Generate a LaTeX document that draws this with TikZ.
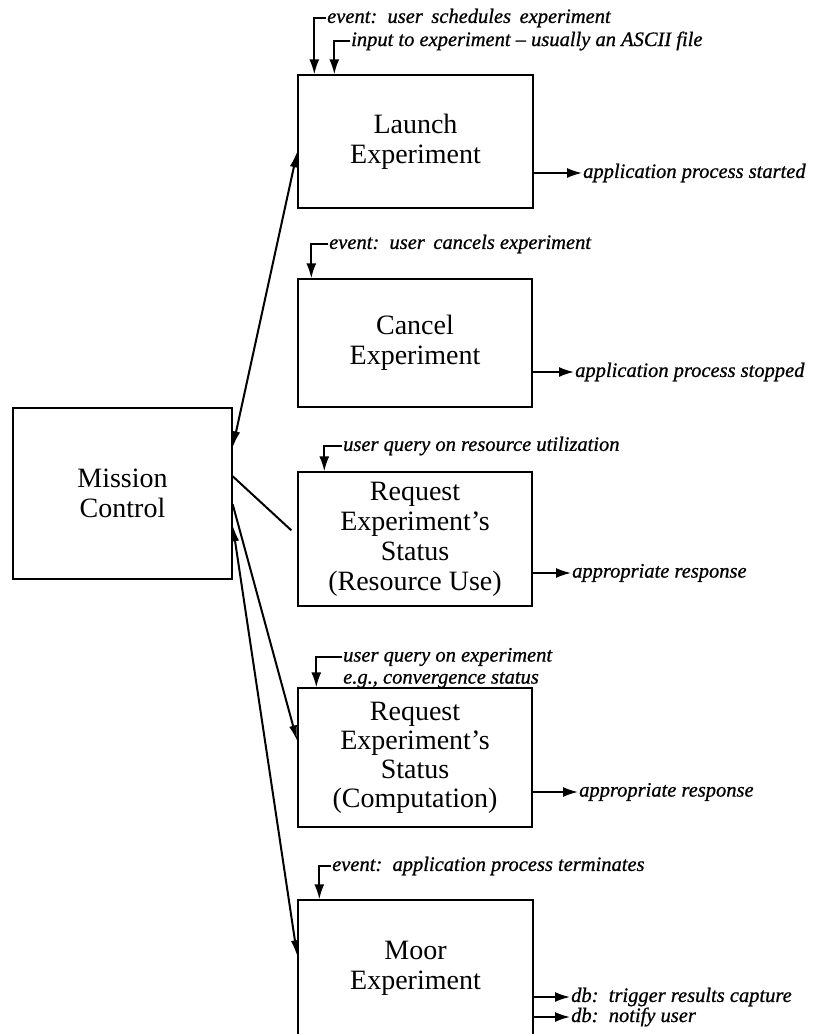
\documentclass[tikz,border=0pt]{standalone}
\usepackage{fontspec}
\setmainfont{Liberation Serif}
\newfontfamily\lblfont[FakeBold=0.8,Ligatures=TeX]{Liberation Serif}
\usetikzlibrary{arrows.meta,calc}
\begin{document}
\begin{tikzpicture}[x=1pt,y=-1pt,
  box/.style={draw, line width=1.4pt, inner sep=0pt, align=center, font=\fontsize{28}{30}\selectfont},
  lbl/.style={font=\lblfont\fontsize{20.5}{22}\selectfont\itshape, inner sep=1pt, anchor=west},
  arr/.style={line width=1.7pt, -{Latex[length=15pt,width=10pt]}},
  conn/.style={line width=2pt},
  tip/.tip={Latex[length=16pt,width=8pt]}
]
\useasboundingbox (0,0) rectangle (822,1034);

% boxes
\node[box, minimum width=219pt, minimum height=171pt] (mc) at (122.5,493.5) {Mission\\Control};
\node[box, minimum width=235pt, minimum height=133pt] (launch) at (415.5,141.5) {Launch\\Experiment};
\node[box, minimum width=234pt, minimum height=128pt] (cancel) at (415,343) {Cancel\\Experiment};
\node[box, minimum width=234pt, minimum height=134pt] (req1) at (415,539) {Request\\Experiment's\\Status\\(Resource Use)};
\node[box, minimum width=234pt, minimum height=139pt, font=\fontsize{28}{29}\selectfont] (req2) at (415,757.5) {Request\\Experiment's\\Status\\(Computation)};
\node[box, minimum width=235pt, minimum height=136pt] (moor) at (415.5,968) {Moor\\Experiment};

% connectors from Mission Control
\draw[conn, tip-tip] ($(mc.north east)+(0,40)$) -- ($(launch.north west)+(0,77)$);
\draw[conn] ($(mc.north east)+(0,69)$) -- ($(req1.north west)+(-6,59)$);
\draw[conn, -tip] ($(mc.north east)+(0,97)$) -- ($(req2.north west)+(0,54)$);
\draw[conn, tip-tip] ($(mc.north east)+(0,118)$) -- ($(moor.north west)+(0,57)$);

% input labels
\node[lbl] (ev1) at (326,18) {event:\, user\, schedules\, experiment};
\node[lbl] (in1) at (350,41) {input to experiment -- usually an ASCII file};
\draw[arr] (ev1.west) -| ($(launch.north west)+(17,0)$);
\draw[arr] (in1.west) -| ($(launch.north west)+(37,0)$);

\node[lbl] (ev2) at (328,244) {event:\, user\, cancels experiment};
\draw[arr] (ev2.west) -| ($(cancel.north west)+(14,0)$);

\node[lbl] (ev3) at (342,446) {user query on resource utilization};
\draw[arr] (ev3.west) -| ($(req1.north west)+(27,0)$);

\node[lbl] (ev4) at (342,657) {user query on experiment};
\node[lbl] (ev4b) at (342,680) {e.g., convergence status};
\draw[arr] (ev4.west) -| ($(req2.north west)+(19,0)$);

\node[lbl] (ev5) at (331,866) {event:\, application process terminates};
\draw[arr] (ev5.west) -| ($(moor.north west)+(22,0)$);

% outputs
\node[lbl] (out1) at (582,173) {application process started};
\draw[arr] (launch.east |- out1.west) -- (out1.west);

\node[lbl] (out2) at (574,372) {application process stopped};
\draw[arr] (cancel.east |- out2.west) -- (out2.west);

\node[lbl] (out3) at (571,573) {appropriate response};
\draw[arr] (req1.east |- out3.west) -- (out3.west);

\node[lbl] (out4) at (578,792) {appropriate response};
\draw[arr] (req2.east |- out4.west) -- (out4.west);

\node[lbl] (out5) at (570,997) {db:\, trigger results capture};
\node[lbl] (out6) at (570,1017) {db:\, notify user};
\draw[arr] (moor.east |- out5.west) -- (out5.west);
\draw[arr] (moor.east |- out6.west) -- (out6.west);
\end{tikzpicture}
\end{document}
